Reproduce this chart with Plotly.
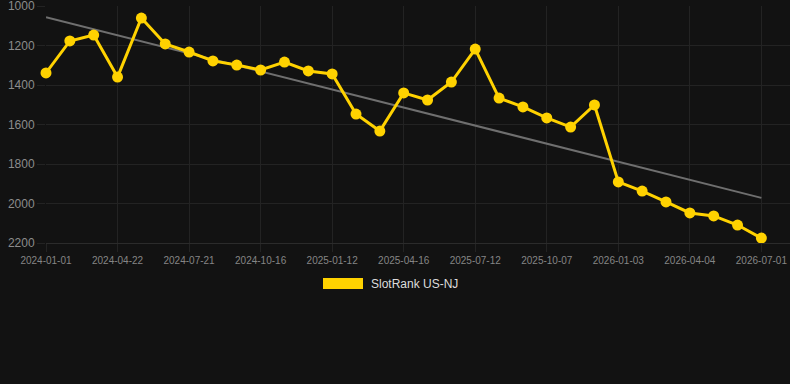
import numpy as np
import plotly.graph_objects as go

# ---- data ----
tick_labels = ["2024-01-01", "2024-04-22", "2024-07-21", "2024-10-16", "2025-01-12",
               "2025-04-16", "2025-07-12", "2025-10-07", "2026-01-03", "2026-04-04", "2026-07-01"]
rank_values = [1339, 1177, 1147, 1360, 1061, 1192, 1233, 1278, 1299, 1324, 1284,
               1329, 1344, 1547, 1633, 1440, 1476, 1385, 1218, 1466, 1511, 1567,
               1613, 1501, 1891, 1937, 1992, 2048, 2063, 2109, 2175]
series_name = "SlotRank US-NJ"

x_idx = list(range(len(rank_values)))
tick_pos = x_idx[::3]

coef = np.polyfit(x_idx, rank_values, 1)
trend_x = [x_idx[0], x_idx[-1]]
trend_y = list(np.polyval(coef, trend_x))

BG = "#121212"
GRID = "#232323"
YELLOW = "#FFD200"
FONT = "Liberation Sans, Arial, sans-serif"

fig = go.Figure()
fig.add_trace(go.Scatter(x=trend_x, y=trend_y, mode="lines",
                         line=dict(color="#6f6f6f", width=2),
                         hoverinfo="skip", showlegend=False, cliponaxis=False))
fig.add_trace(go.Scatter(x=x_idx, y=rank_values, mode="lines+markers",
                         name=series_name,
                         line=dict(color=YELLOW, width=3),
                         marker=dict(color=YELLOW, size=11),
                         showlegend=False, cliponaxis=False))

fig.update_layout(
    width=790, height=384,
    margin=dict(l=46, r=0, t=6, b=141, autoexpand=False),
    paper_bgcolor=BG, plot_bgcolor=BG,
    font=dict(family=FONT),
    showlegend=False,
    xaxis=dict(range=[0, 31.2], tickmode="array", tickvals=tick_pos, ticktext=tick_labels,
               showgrid=True, gridcolor=GRID, gridwidth=1, zeroline=False,
               ticks="outside", ticklen=8, tickcolor=GRID,
               tickfont=dict(size=10, color="#858585"),
               ticklabeloverflow="allow",
               showline=True, linecolor="#2b2b2b", linewidth=1, automargin=False),
    yaxis=dict(range=[2200, 1000], tickvals=[1000, 1200, 1400, 1600, 1800, 2000, 2200],
               showgrid=True, gridcolor=GRID, gridwidth=1, zeroline=False,
               ticks="outside", ticklen=8, tickcolor=GRID,
               tickfont=dict(size=12, color="#8c8c8c"),
               ticklabeloverflow="allow",
               showline=False, automargin=False),
)

# legend drawn manually (40x10 swatch + label)
px_left, px_w = 46, 744
py_bot, py_h = 243, 237
def px2x(px):
    return (px - px_left) / px_w
def py2y(py):
    return (py_bot - py) / py_h

fig.add_shape(type="rect", xref="paper", yref="paper",
              x0=px2x(323), x1=px2x(363), y0=py2y(289), y1=py2y(278),
              fillcolor=YELLOW, line=dict(width=0))
fig.add_annotation(xref="paper", yref="paper", x=px2x(369), y=py2y(284),
                   text=series_name, showarrow=False, xanchor="left", yanchor="middle",
                   font=dict(size=12, color="#dddddd", family=FONT))

fig.write_html("out.html")
